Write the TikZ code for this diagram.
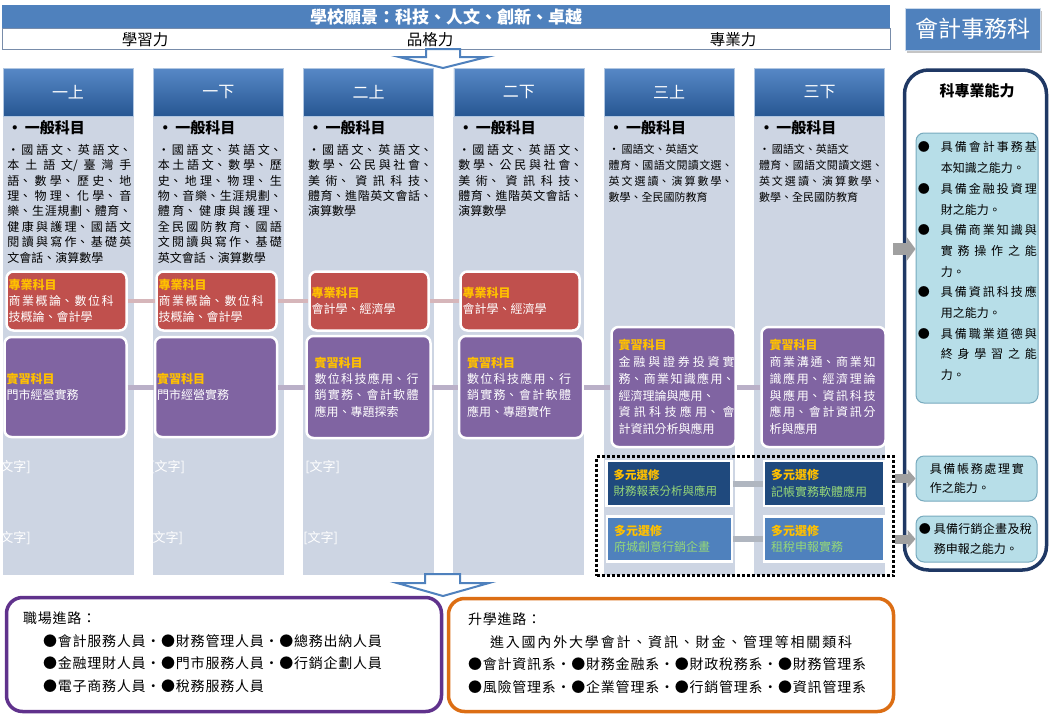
\documentclass[tikz,border=0pt]{standalone}
\usepackage{fontspec}
\setmainfont{Noto Sans CJK TC}
\usepackage{tikz}
\usetikzlibrary{arrows.meta,positioning,shadows}

\definecolor{banblue}{RGB}{79,129,189}
\definecolor{headtop}{RGB}{86,136,198}
\definecolor{headbot}{RGB}{39,86,146}
\definecolor{bodygray}{RGB}{205,213,227}
\definecolor{rowedge}{RGB}{120,140,170}
\definecolor{subred}{RGB}{192,80,77}
\definecolor{subpurple}{RGB}{128,100,162}
\definecolor{navy}{RGB}{31,73,125}
\definecolor{gold}{RGB}{255,192,0}
\definecolor{lgreen}{RGB}{150,216,120}
\definecolor{paleblue}{RGB}{183,222,232}
\definecolor{skyedge}{RGB}{120,170,190}
\definecolor{panelnavy}{RGB}{31,56,100}
\definecolor{pinkline}{RGB}{214,182,186}
\definecolor{lavline}{RGB}{186,176,200}
\definecolor{grayline}{RGB}{176,182,192}
\definecolor{arrowgray}{RGB}{160,160,160}
\definecolor{jobpurple}{RGB}{96,50,140}
\definecolor{studyorange}{RGB}{220,110,20}

\XeTeXlinebreaklocale "zh"
\XeTeXlinebreakskip=0pt plus 4pt
\tolerance=10000
\hbadness=10000

\newcommand{\subhead}[1]{{\color{gold}\bfseries #1}\par}
\newcommand{\skitem}[2][23pt]{\hangindent=#1\hangafter=1\noindent\makebox[#1][l]{●}#2\par}

\begin{document}
\begin{tikzpicture}[x=1pt,y=-1pt,node distance=150.3pt,semithick]
    \tikzstyle{head}=[top color=headtop,bottom color=headbot,draw=white!55!banblue,
                      line width=0.8pt,minimum width=130pt,minimum height=48pt,
                      inner sep=0pt,text=white,font=\fontsize{16}{16}\selectfont]
    \tikzstyle{colbody}=[fill=bodygray,minimum width=131pt,minimum height=458pt,inner sep=0pt]
    \tikzstyle{gentitle}=[anchor=west,inner sep=0pt,xshift=5pt,yshift=-11pt,
                          font=\fontsize{15}{15}\selectfont\bfseries]
    \tikzstyle{genlist}=[anchor=north west,inner sep=0pt,xshift=5pt,yshift=-27pt,
                         text width=124pt,align=justify,font=\fontsize{12}{15.4}\selectfont]
    \tikzstyle{redbox}=[rounded corners=7pt,fill=subred,draw=white,line width=2.5pt,inner sep=0pt]
    \tikzstyle{purplebox}=[redbox,fill=subpurple]
    \tikzstyle{boxtext}=[anchor=west,inner sep=0pt,xshift=3pt,text=white,align=justify,
                         font=\fontsize{12}{16.3}\selectfont]
    \tikzstyle{navybox}=[fill=navy,draw=white,line width=2.5pt,inner sep=0pt,
                         minimum width=125pt,minimum height=45pt]
    \tikzstyle{bluebox}=[navybox,fill=banblue]
    \tikzstyle{electext}=[anchor=west,inner sep=0pt,xshift=8pt,text=lgreen,align=left,
                          text width=118pt,font=\fontsize{12}{16.5}\selectfont]
    \tikzstyle{redlink}=[draw=pinkline,line width=4pt]
    \tikzstyle{purplelink}=[draw=lavline,line width=5pt]
    \tikzstyle{graylink}=[draw=grayline,line width=6pt]
    \tikzstyle{skybox}=[rounded corners=8pt,fill=paleblue,draw=skyedge,line width=1pt,inner sep=0pt]
    \tikzstyle{skytext}=[anchor=west,inner sep=0pt,align=justify,font=\fontsize{12}{19.5}\selectfont]
    \tikzstyle{blockarrow}=[draw=arrowgray,line width=12pt,-{Triangle[length=9pt,width=24pt]}]
    \tikzstyle{outlinearrow}=[draw=banblue,line width=2pt,fill=white,line join=miter]
    \tikzstyle{pathbox}=[rounded corners=16pt,fill=white,line width=3.5pt,inner sep=0pt]
    \tikzstyle{pathtext}=[anchor=north west,inner sep=0pt,align=left,
                          font=\fontsize{14}{22.5}\selectfont\addfontfeatures{LetterSpace=5.5}]
    \tikzstyle{pillar}=[inner sep=0pt,font=\fontsize{15.5}{15.5}\selectfont]
    \tikzstyle{ghost}=[anchor=west,inner sep=0pt,text=white,font=\fontsize{13}{13}\selectfont]

    \useasboundingbox (0,0) rectangle (1061,718);
    \fill[white] (0,0) rectangle (1061,718);

    % vision banner
    \node[fill=banblue,minimum width=888pt,minimum height=24pt,inner sep=0pt,text=white,
          font=\fontsize{17}{17}\selectfont\bfseries] (vision) at (446,16.5) {學校願景：科技、人文、創新、卓越};
    \node[draw=rowedge,fill=white,line width=0.6pt,minimum width=888pt,minimum height=21pt,
          inner sep=0pt] (pillars) at (446,39) {};
    \node[pillar] (learn) at (145,40) {學習力};
    \node[pillar] (moral) at (430,40) {品格力};
    \node[pillar] (skill) at (733,40) {專業力};
    \node[fill=banblue,draw=white!70!banblue,line width=1pt,minimum width=135pt,minimum height=42pt,
          text=white,font=\fontsize{23}{23}\selectfont,
          drop shadow={opacity=0.45,shadow xshift=2pt,shadow yshift=-3pt}] (dept) at (972.5,29) {會計事務科};

    \draw[outlinearrow] (426,49) -- (460,49) -- (460,57) -- (487,57) -- (443,68)
                        -- (399,57) -- (426,57) -- cycle;

    % semesters
    \node[head] (h1) at (68,92.5) {一上};
    \node[head] (h2) [right of=h1] {一下};
    \node[head] (h3) [right of=h2] {二上};
    \node[head] (h4) [right of=h3] {二下};
    \node[head] (h5) [right of=h4] {三上};
    \node[head] (h6) [right of=h5] {三下};

    \node[colbody,anchor=north] (b1) at (h1.south) {};
    \node[colbody,anchor=north] (b2) at (h2.south) {};
    \node[colbody,anchor=north] (b3) at (h3.south) {};
    \node[colbody,anchor=north] (b4) at (h4.south) {};
    \node[colbody,anchor=north] (b5) at (h5.south) {};
    \node[colbody,anchor=north] (b6) at (h6.south) {};

    % general subjects
    \node[gentitle] (t1) at (b1.north west) {•\,一般科目};
    \node[gentitle] (t2) at (b2.north west) {•\,一般科目};
    \node[gentitle] (t3) at (b3.north west) {•\,一般科目};
    \node[gentitle] (t4) at (b4.north west) {•\,一般科目};
    \node[gentitle] (t5) at (b5.north west) {•\,一般科目};
    \node[gentitle] (t6) at (b6.north west) {•\,一般科目};

    \node[genlist] (l1) at (b1.north west) {•\,國語文、英語文、\linebreak
        本土語文/臺灣手\linebreak
        語、數學、歷史、地\linebreak
        理、物理、化學、音\linebreak
        樂、生涯規劃、體育、\linebreak
        健康與護理、國語文\linebreak
        閱讀與寫作、基礎英\linebreak
        文會話、演算數學};
    \node[genlist] (l2) at (b2.north west) {•\,國語文、英語文、\linebreak
        本土語文、數學、歷\linebreak
        史、地理、物理、生\linebreak
        物、音樂、生涯規劃、\linebreak
        體育、健康與護理、\linebreak
        全民國防教育、國語\linebreak
        文閱讀與寫作、基礎\linebreak
        英文會話、演算數學};
    \node[genlist] (l3) at (b3.north west) {•\,國語文、英語文、\linebreak
        數學、公民與社會、\linebreak
        美術、資訊科技、\linebreak
        體育、進階英文會話、\linebreak
        演算數學};
    \node[genlist] (l4) at (b4.north west) {•\,國語文、英語文、\linebreak
        數學、公民與社會、\linebreak
        美術、資訊科技、\linebreak
        體育、進階英文會話、\linebreak
        演算數學};
    \node[genlist,font=\fontsize{11}{16}\selectfont] (l5) at (b5.north west) {•\,國語文、英語文\\
        體育、國語文閱讀文選、\linebreak
        英文選讀、演算數學、\linebreak
        數學、全民國防教育};
    \node[genlist,font=\fontsize{11}{16}\selectfont] (l6) at (b6.north west) {•\,國語文、英語文\\
        體育、國語文閱讀文選、\linebreak
        英文選讀、演算數學、\linebreak
        數學、全民國防教育};

    \node[ghost] (g1a) at (0,467) {文字]};
    \node[ghost] (g1b) at (0,538) {文字]};
    \node[ghost] (g2a) at (150,467) {[文字]};
    \node[ghost] (g2b) at (148,538) {[文字]};
    \node[ghost] (g3a) at (305,467) {[文字]};
    \node[ghost] (g3b) at (303,538) {[文字]};

    % professional subjects
    \node[redbox,minimum width=120pt,minimum height=59pt] (r1) at (66.5,301) {};
    \node[redbox,minimum width=120pt,minimum height=59pt] (r2) at (216.5,301) {};
    \node[redbox,minimum width=119pt,minimum height=59pt] (r3) at (369,301) {};
    \node[redbox,minimum width=119pt,minimum height=59pt] (r4) at (520,301) {};
    \node[boxtext,text width=105pt] (r1t) at (r1.west) {\subhead{專業科目}商業概論、數位科\linebreak 技概論、會計學};
    \node[boxtext,text width=105pt] (r2t) at (r2.west) {\subhead{專業科目}商業概論、數位科\linebreak 技概論、會計學};
    \node[boxtext,text width=105pt] (r3t) at (r3.west) {\subhead{專業科目}會計學、經濟學};
    \node[boxtext,text width=105pt] (r4t) at (r4.west) {\subhead{專業科目}會計學、經濟學};

    % practice subjects
    \node[purplebox,minimum width=122pt,minimum height=100pt] (p1) at (65.5,387) {};
    \node[purplebox,minimum width=122pt,minimum height=100pt] (p2) at (216,387) {};
    \node[purplebox,minimum width=124pt,minimum height=102pt] (p3) at (368.5,387) {};
    \node[purplebox,minimum width=124pt,minimum height=102pt] (p4) at (521,387) {};
    \node[purplebox,minimum width=124pt,minimum height=120pt] (p5) at (673.5,387) {};
    \node[purplebox,minimum width=124pt,minimum height=120pt] (p6) at (823.5,387) {};
    \node[boxtext,text width=110pt] (p1t) at (p1.west) {\subhead{實習科目}門市經營實務};
    \node[boxtext,text width=110pt] (p2t) at (p2.west) {\subhead{實習科目}門市經營實務};
    \node[boxtext,text width=104pt,xshift=6pt] (p3t) at (p3.west) {\subhead{實習科目}數位科技應用、行\linebreak
        銷實務、會計軟體\linebreak 應用、專題探索};
    \node[boxtext,text width=104pt,xshift=6pt] (p4t) at (p4.west) {\subhead{實習科目}數位科技應用、行\linebreak
        銷實務、會計軟體\linebreak 應用、專題實作};
    \node[boxtext,text width=116pt,xshift=5pt,font=\fontsize{12}{16.7}\selectfont] (p5t) at (p5.west) {\subhead{實習科目}金融與證券投資實\linebreak
        務、商業知識應用、\linebreak 經濟理論與應用、\\ 資訊科技應用、會\linebreak 計資訊分析與應用};
    \node[boxtext,text width=106pt,xshift=6pt,font=\fontsize{12}{16.7}\selectfont] (p6t) at (p6.west) {\subhead{實習科目}商業溝通、商業知\linebreak
        識應用、經濟理論\linebreak 與應用、資訊科技\linebreak 應用、會計資訊分\linebreak 析與應用};

    \path (r1) edge[redlink] (r2)
          (r2) edge[redlink] (r3)
          (r3) edge[redlink] (r4);
    \path (p1) edge[purplelink] (p2)
          (p2) edge[purplelink] (p3)
          (p3) edge[purplelink] (p4)
          (p4) edge[purplelink] (p5)
          (p5) edge[purplelink] (p6);

    % electives
    \node[draw=black,line width=3pt,dash pattern=on 3pt off 2pt,minimum width=297pt,
          minimum height=119pt,inner sep=0pt] (dt) at (745,516) {};
    \node[navybox] (e1) at (669,483.5) {};
    \node[navybox,minimum width=120pt] (e2) at (824,483.5) {};
    \node[bluebox] (e3) at (669.5,539) {};
    \node[bluebox,minimum width=120pt] (e4) at (824,539) {};
    \node[electext,font=\fontsize{11.5}{16}\selectfont] (e1t) at (e1.west) {\subhead{多元選修}財務報表分析與應用};
    \node[electext] (e2t) at (e2.west) {\subhead{多元選修}記帳實務軟體應用};
    \node[electext] (e3t) at (e3.west) {\subhead{多元選修}府城創意行銷企畫};
    \node[electext] (e4t) at (e4.west) {\subhead{多元選修}租稅申報實務};
    \path (e1) edge[graylink] (e2)
          (e3) edge[graylink] (e4);

    % abilities
    \node[pathbox,draw=panelnavy,rounded corners=24pt,minimum width=142pt,minimum height=500pt] (rp) at (975.5,320) {};
    \node[inner sep=0pt,font=\fontsize{15}{15}\selectfont\bfseries] (rpt) at (977,91) {科專業能力};
    \node[skybox,minimum width=122pt,minimum height=270pt] (ib) at (977,268) {};
    \node[skytext,anchor=north west,text width=119pt,font=\fontsize{12}{20.7}\selectfont] (ibt)
          [xshift=2pt,yshift=-9pt] at (ib.north west) {%
        \skitem{具備會計事務基\linebreak 本知識之能力。}%
        \skitem{具備金融投資理\linebreak 財之能力。}%
        \skitem{具備商業知識與\linebreak 實務操作之能\linebreak 力。}%
        \skitem{具備資訊科技應\linebreak 用之能力。}%
        \skitem{具備職業道德與\linebreak 終身學習之能\linebreak 力。}};
    \node[skybox,minimum width=121pt,minimum height=45pt] (sk1) at (976.5,478.5) {};
    \node[skybox,minimum width=121pt,minimum height=46pt] (sk2) at (976.5,539) {};
    \node[skytext,text width=94pt] (sk1t) [xshift=14pt] at (sk1.west) {具備帳務處理實\linebreak 作之能力。};
    \node[skytext,text width=113pt] (sk2t) [xshift=3pt] at (sk2.west) {\skitem[15pt]{具備行銷企畫及稅\linebreak 務申報之能力。}};

    \coordinate (arr0) at (893,249);
    \draw[blockarrow] (arr0) -- (arr0 -| ib.west);
    \draw[blockarrow,line width=9pt,-{Triangle[length=8pt,width=18pt]}] (dt.east |- sk1.west) -- (sk1.west);
    \draw[blockarrow,line width=9pt,-{Triangle[length=8pt,width=18pt]}] (dt.east |- sk2.west) -- (sk2.west);

    % pathways
    \draw[outlinearrow] (425,574) -- (460,574) -- (460,583) -- (489,583) -- (443,596)
                        -- (397,583) -- (425,583) -- cycle;
    \node[pathbox,draw=jobpurple,minimum width=435pt,minimum height=114pt] (job) at (224,654.5) {};
    \node[pathbox,draw=studyorange,minimum width=445pt,minimum height=113pt] (study) at (671,655) {};
    \node[pathtext] (jobt) [xshift=18pt,yshift=-16pt] at (job.north west) {職場進路：\\
        \hspace*{20pt}●會計服務人員‧●財務管理人員‧●總務出納人員\\
        \hspace*{20pt}●金融理財人員‧●門市服務人員‧●行銷企劃人員\\
        \hspace*{20pt}●電子商務人員‧●稅務服務人員};
    \node[pathtext] (studyt) [xshift=21pt,yshift=-16pt] at (study.north west) {升學進路：\\
        \hspace*{22pt}{\addfontfeatures{LetterSpace=13}進入國內外大學會計、資訊、財金、管理等相關類科}\\
        ●會計資訊系‧●財務金融系‧●財政稅務系‧●財務管理系\\
        ●風險管理系‧●企業管理系‧●行銷管理系‧●資訊管理系};
\end{tikzpicture}
\end{document}
